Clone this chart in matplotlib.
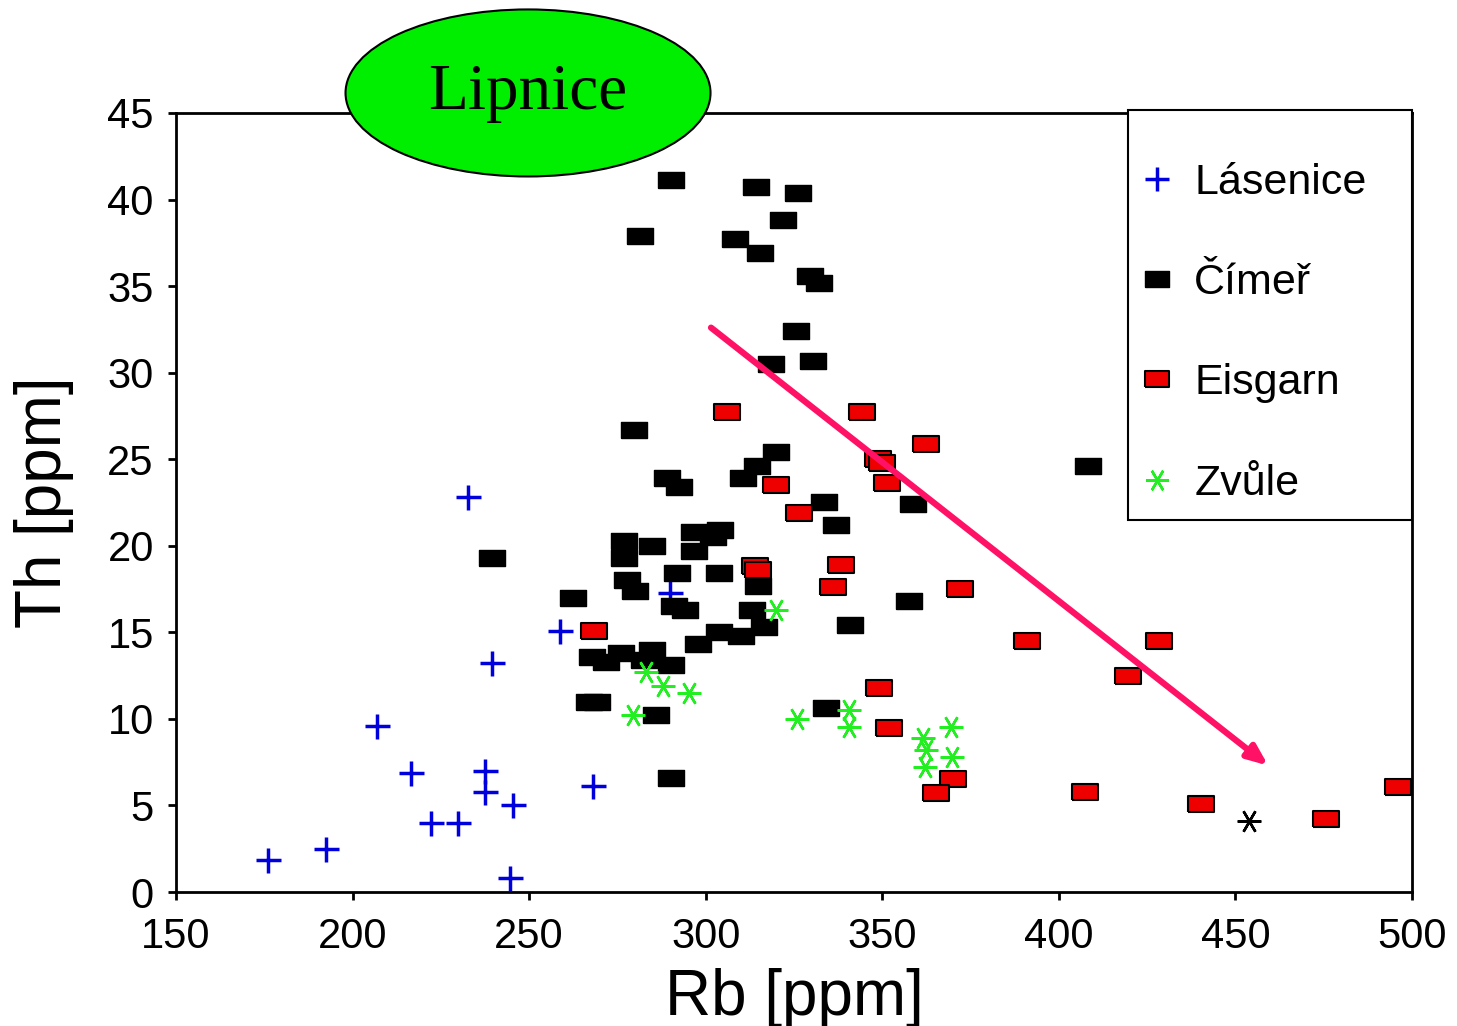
import matplotlib
matplotlib.use("Agg")
import matplotlib.pyplot as plt
from matplotlib.patches import Ellipse, Rectangle

plt.rcParams['font.family'] = ['Liberation Sans', 'DejaVu Sans']

# Lásenice
las_rb = [232.7, 289.9, 258.8, 239.5, 206.9, 216.6, 237.5, 237.5, 245.4, 222.2, 229.9, 192.5, 176.1, 244.6, 268.1]
las_th = [22.8, 17.3, 15.1, 13.2, 9.6, 6.9, 7.0, 5.8, 5.0, 4.0, 4.0, 2.5, 1.85, 0.8, 6.1]

# Čímeř
cim_rb = [290.2, 314.2, 326.1, 322.0, 281.4, 308.3, 315.4, 329.6, 332.2, 325.5, 330.5, 318.6,
          279.6, 319.8, 314.5, 310.5, 288.9, 292.5, 333.6, 336.9, 358.7, 408.3, 239.5,
          296.8, 304.1, 302.1, 277.0, 284.7, 277.0, 296.8, 292.0, 303.8, 314.7, 277.8, 279.9,
          262.5, 291.0, 294.0, 313.1, 341.0, 357.7, 303.8, 309.9, 316.5, 297.8, 267.7, 271.9,
          275.9, 284.9, 282.4, 290.1, 267.0, 269.2, 285.9, 334.0, 290.2]
cim_th = [41.1, 40.7, 40.4, 38.8, 37.9, 37.7, 36.9, 35.6, 35.2, 32.4, 30.7, 30.5,
          26.7, 25.4, 24.6, 23.9, 23.9, 23.4, 22.5, 21.2, 22.4, 24.6, 19.3,
          20.8, 20.9, 20.5, 20.3, 20.0, 19.3, 19.7, 18.4, 18.4, 17.7, 18.0, 17.4,
          17.0, 16.5, 16.3, 16.3, 15.4, 16.8, 15.0, 14.8, 15.3, 14.3, 13.6, 13.3,
          13.8, 14.0, 13.4, 13.1, 11.0, 11.0, 10.2, 10.6, 6.6]

# Eisgarn
eis_rb = [306.0, 344.3, 362.4, 348.7, 349.9, 351.4, 319.8, 326.3, 314.0, 314.9, 338.4, 336.1,
          371.9, 268.4, 391.0, 428.4, 419.7, 349.0, 351.8, 369.9, 365.2, 407.4, 440.3, 475.6, 495.9]
eis_th = [27.7, 27.75, 25.9, 25.0, 24.8, 23.6, 23.5, 21.9, 18.85, 18.6, 18.9, 17.6,
          17.5, 15.1, 14.5, 14.5, 12.5, 11.8, 9.45, 6.5, 5.7, 5.8, 5.1, 4.2, 6.05]

# Zvůle
zv_rb = [319.8, 283.1, 288.0, 295.3, 279.5, 325.9, 340.5, 340.5, 369.5, 361.6, 362.4, 369.8, 362.0]
zv_th = [16.3, 12.7, 11.9, 11.5, 10.2, 10.0, 10.5, 9.55, 9.55, 8.9, 8.2, 7.8, 7.2]

# single black asterisk
other_rb = [453.8]
other_th = [4.1]

rect = [(-1.6, -1), (1.6, -1), (1.6, 1), (-1.6, 1), (-1.6, -1)]
aster = (6, 2, 90)

fig = plt.figure(figsize=(14.57, 10.26), dpi=100)
ax = fig.add_axes([0.1208, 0.1306, 0.8483, 0.7593])

ax.plot(las_rb, las_th, ls='none', marker='+', ms=18, mew=2.5, color='#0000dd', label='Lásenice')
ax.plot(cim_rb, cim_th, ls='none', marker=rect, ms=18.5, mew=1, color='black', label='Čímeř')
ax.plot(eis_rb, eis_th, ls='none', marker=rect, ms=18.5, mew=1.5, mfc='#ee0000', mec='black', label='Eisgarn')
ax.plot(zv_rb, zv_th, ls='none', marker=aster, ms=17, mew=1.8, color='#22ee22', label='Zvůle')
ax.plot(other_rb, other_th, ls='none', marker=aster, ms=17, mew=1.8, color='black')

ax.annotate('', xy=(459.3, 7.3), xytext=(301.5, 32.6),
            arrowprops=dict(arrowstyle='-|>,head_length=1.2,head_width=0.5', color='#ff1166', lw=4.5,
                            shrinkA=0, shrinkB=0))

ax.set_xlim(150, 500)
ax.set_ylim(0, 45)
ax.set_xticks(range(150, 501, 50))
ax.set_yticks(range(0, 46, 5))
ax.tick_params(labelsize=30, width=2, length=6)
ax.tick_params(axis='x', pad=12)
ax.tick_params(axis='y', pad=10)
for s in ax.spines.values():
    s.set_linewidth(2)
ax.set_xlabel('Rb [ppm]', fontsize=46, labelpad=8)
ax.set_ylabel('Th [ppm]', fontsize=46, labelpad=24)

# legend box drawn by hand (frame sits against the top right corner)
box = Rectangle((0.770, 0.4775), 0.230, 0.526, transform=ax.transAxes, facecolor='white',
                edgecolor='black', lw=1.5, zorder=4, clip_on=False)
ax.add_patch(box)
leg = ax.legend(loc='upper left', bbox_to_anchor=(0.782, 0.936), fontsize=31, frameon=False,
                borderaxespad=0, borderpad=0, labelspacing=1.40, handletextpad=0.55,
                handlelength=0.65, markerscale=0.95)
leg.set_zorder(6)

ell = Ellipse((0.3624, 0.9094), 0.2505, 0.1628, transform=fig.transFigure,
              facecolor='#00ee00', edgecolor='black', lw=1.5, zorder=5)
fig.add_artist(ell)
fig.text(0.3624, 0.9094, 'Lipnice', family='Liberation Serif', fontsize=47,
         ha='center', va='center', zorder=6)

fig.savefig('out.png', dpi=100)
